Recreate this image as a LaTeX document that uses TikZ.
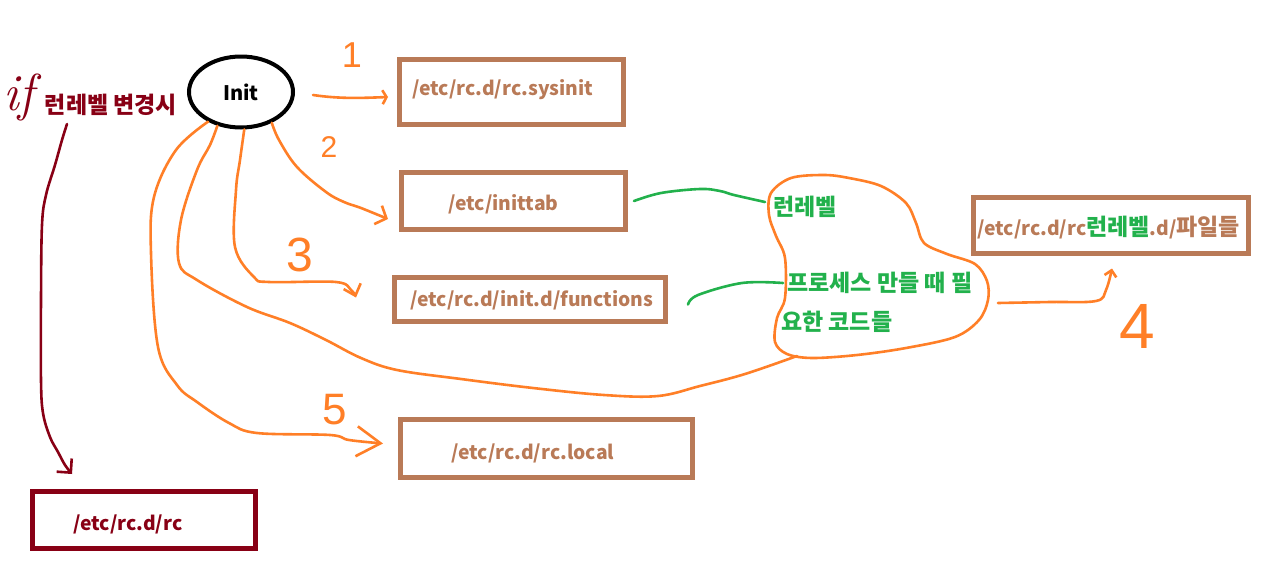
\documentclass[tikz,border=0pt]{standalone}
\usepackage{fontspec}
\newfontfamily\kr{Noto Sans CJK KR}
\newfontfamily\hand{Liberation Sans}
\usetikzlibrary{shapes.geometric,arrows.meta}
\definecolor{ora}{HTML}{FF7F27}
\definecolor{brn}{HTML}{B97A57}
\definecolor{dred}{HTML}{880015}
\definecolor{grn}{HTML}{22B14C}
\newcommand{\hg}[1]{{\fontsize{23}{26}\selectfont #1}}
\tikzset{
  filebox/.style={draw=brn, line width=5pt, rectangle, inner sep=0pt},
  ftext/.style={font=\kr\bfseries\fontsize{19.3}{24}\selectfont, text=brn, inner sep=0pt, anchor=west},
  krlbl/.style={font=\kr\bfseries\fontsize{23}{26}\selectfont, inner sep=0pt},
  oline/.style={draw=ora, line width=2.6pt, line cap=round, line join=round},
  gline/.style={draw=grn, line width=2.6pt, line cap=round, line join=round},
  rline/.style={draw=dred, line width=2.6pt, line cap=round, line join=round},
}
\begin{document}
\begin{tikzpicture}[x=1pt,y=-1pt]
\path[use as bounding box, fill=white] (0,0) rectangle (1266,565);

% Init
\node[draw=black, ellipse, line width=4pt, minimum width=104pt, minimum height=71pt, inner sep=0pt,
      font=\kr\bfseries\fontsize{20}{24}\selectfont] (init) at (241,92) {Init};

% file boxes
\node[filebox, minimum width=224pt, minimum height=65pt] (b1) at (511.5,92) {};
\node[ftext] (t1) at (412,90) {/etc/rc.d/rc.sysinit};
\node[filebox, minimum width=224pt, minimum height=57pt] (b2) at (513.5,201) {};
\node[ftext] (t2) at (448,204) {/etc/inittab};
\node[filebox, minimum width=271pt, minimum height=44pt] (b3) at (530,299.5) {};
\node[ftext] (t3) at (410,300) {/etc/rc.d/init.d/functions};
\node[filebox, minimum width=275pt, minimum height=56pt] (b4) at (1111,225) {};
\node[ftext] (t4) at (977,228) {/etc/rc.d/rc\hg{\textcolor{grn}{런레벨}}.d/\hg{파일들}};
\node[filebox, minimum width=292pt, minimum height=58pt] (b5) at (546.5,448.5) {};
\node[ftext] (t5) at (451,453) {/etc/rc.d/rc.local};
\node[filebox, draw=dred, minimum width=223pt, minimum height=57pt] (b6) at (144,520) {};
\node[ftext, text=dred] (t6) at (73,524) {/etc/rc.d/rc};

% left labels
\node[font=\itshape\fontsize{52}{56}\selectfont, text=dred, inner sep=0pt] (iff) at (19,97) {if};
\node[krlbl, text=dred] (rl) at (111,105) {런레벨 변경시};

% cloud texts
\node[krlbl, text=grn, anchor=west] (c1) at (773,207) {런레벨};
\node[krlbl, text=grn, anchor=west] (c2) at (787,283) {프로세스 만들 때 필};
\node[krlbl, text=grn, anchor=west] (c3) at (781,322) {요한 코드들};

% digits
\node[font=\hand\fontsize{36}{40}\selectfont, text=ora, inner sep=0pt] (n1) at (352,55) {1};
\node[font=\hand\fontsize{30}{34}\selectfont, text=ora, inner sep=0pt] (n2) at (329,147) {2};
\node[font=\hand\fontsize{48}{52}\selectfont, text=ora, inner sep=0pt] (n3) at (300,255) {3};
\node[font=\hand\fontsize{64}{70}\selectfont, text=ora, inner sep=0pt] (n4) at (1137,326) {4};
\node[font=\hand\fontsize{44}{48}\selectfont, text=ora, inner sep=0pt] (n5) at (335,410) {5};

% cloud
\draw[oline] plot[smooth cycle, tension=0.55] coordinates {
 (824,175) (849,178) (881,186) (906,203) (916,223) (924,243) (947,254) (975,264)
 (987,281) (988,300) (979,320) (955,337) (906,348) (857,355) (812,358) (787,354)
 (775,342) (777,318) (785,298) (785,258) (776,236) (769,215) (771,193) (791,178)};
\coordinate (cloudbot) at (797,356);
\coordinate (cloudright) at (998,303);

% orange connectors
\draw[oline, -{Straight Barb[length=4pt,width=14pt]}]
  ([shift={(18,3)}]init.east) .. controls (340,99) and (362,98) .. ([shift={(-9,5)}]b1.west);
\draw[oline, -{Straight Barb[length=9pt,width=20pt]}] plot[smooth, tension=0.6] coordinates {
  (init.-45) (279,140) (297,167) (326,192) (344,202) (361,208) ([shift={(-11,18)}]b2.west)};
\draw[oline, -{Straight Barb[length=10pt,width=18pt]}] plot[smooth, tension=0.6] coordinates {
  (init.-85) (240,160) (236,190) (235,247) (254,277) (269,282) (336,282) (351,290) ([shift={(-36,-2)}]b3.west)};
\draw[oline] plot[smooth, tension=0.6] coordinates {
  (init.-125) (210,145) (197,170) (181,220) (179,263) (197,280) (247,307) (290,323) (326,340)
  (361,358) (397,370) (461,379) (533,388) (604,395) (658,396) (700,386) (745,374) (cloudbot)};
\draw[oline, -{Straight Barb[length=24pt,width=30pt]}] plot[smooth, tension=0.6] coordinates {
  (init.-138) (176,150) (154,197) (151,253) (158,347) (177,385) (197,402) (229,423) (257,433)
  (330,435) (349,440) ([shift={(-15,-5)}]b5.west)};
\draw[oline, -{Straight Barb[length=6pt,width=12pt]}] plot[smooth, tension=0.6] coordinates {
  (cloudright) (1050,302) (1096,301) (1106,290) ([shift={(1,13)}]b4.south)};

% green connectors
\draw[gline] plot[smooth, tension=0.6] coordinates {
  ([xshift=6]b2.east) (661,193) (700,189) (720,191) (734,195) ([shift={(-8,-5)}]c1.west)};
\draw[gline] plot[smooth, tension=0.6] coordinates {
  ([shift={(20,5)}]b3.east) (698,295) (742,283) ([xshift=-4]c2.west)};

% dark red connector
\draw[rline, -{Straight Barb[length=10pt,width=20pt]}] plot[smooth, tension=0.6] coordinates {
  ([shift={(-44,8)}]rl.south) (62,140) (55,165) (46,195) (42,225) (41,300) (41,380) (43,413)
  (50,437) (58,452) (65,465) ([shift={(-72,-15)}]b6.north)};
\end{tikzpicture}
\end{document}
